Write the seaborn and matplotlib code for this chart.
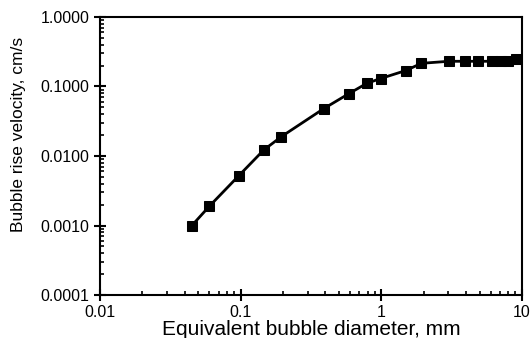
import numpy as np
import pandas as pd
import seaborn as sns
import matplotlib.pyplot as plt
from matplotlib.ticker import FixedLocator, LogLocator, NullFormatter

# bubble diameter (mm) and rise velocity (cm/s)
diameter = [0.045, 0.060, 0.097, 0.146, 0.195, 0.39, 0.59, 0.79, 0.99,
            1.49, 1.93, 3.02, 3.91, 4.89, 6.08, 7.16, 7.98, 9.15]
velocity = [0.0010, 0.0019, 0.0052, 0.0122, 0.019, 0.048, 0.079, 0.111, 0.130,
            0.169, 0.215, 0.230, 0.230, 0.230, 0.230, 0.230, 0.232, 0.246]

x_ticks = [0.01, 0.1, 1, 10]
x_labels = ["0.01", "0.1", "1", "10"]
y_ticks = [0.0001, 0.001, 0.01, 0.1, 1.0]
y_labels = ["0.0001", "0.0010", "0.0100", "0.1000", "1.0000"]

df = pd.DataFrame({"d": diameter, "v": velocity})

sns.set_style("ticks")
plt.rcParams['font.family'] = ['Liberation Sans', 'DejaVu Sans']
plt.rcParams['text.color'] = 'black'
plt.rcParams['axes.labelcolor'] = 'black'

fig = plt.figure(figsize=(5.32, 3.38), dpi=100)
ax = fig.add_axes([0.188, 0.127, 0.793, 0.823])

sns.lineplot(data=df, x="d", y="v", ax=ax, color="black", linewidth=2.0,
             marker="s", markersize=7, markeredgecolor="black", markerfacecolor="black")

ax.set_xscale("log")
ax.set_yscale("log")
ax.set_xlim(0.01, 10)
ax.set_ylim(0.0001, 1.0)

ax.xaxis.set_major_locator(FixedLocator(x_ticks))
ax.set_xticklabels(x_labels)
ax.yaxis.set_major_locator(FixedLocator(y_ticks))
ax.set_yticklabels(y_labels)
ax.xaxis.set_minor_locator(LogLocator(base=10, subs=np.arange(2, 10)))
ax.yaxis.set_minor_locator(LogLocator(base=10, subs=np.arange(2, 10)))
ax.xaxis.set_minor_formatter(NullFormatter())
ax.yaxis.set_minor_formatter(NullFormatter())

ax.tick_params(which="major", direction="inout", length=8, width=1.5, labelsize=11.5, colors="black")
ax.tick_params(which="minor", direction="in", length=3, width=1.2, colors="black")

for s in ax.spines.values():
    s.set_visible(True)
    s.set_linewidth(1.5)
    s.set_color("black")

ax.set_xlabel("Equivalent bubble diameter, mm", fontsize=15, labelpad=0, color="black")
ax.set_ylabel("Bubble rise velocity, cm/s", fontsize=12.5, color="black")
ax.yaxis.set_label_coords(-0.175, 0.576)

fig.savefig("out.png", dpi=100)
